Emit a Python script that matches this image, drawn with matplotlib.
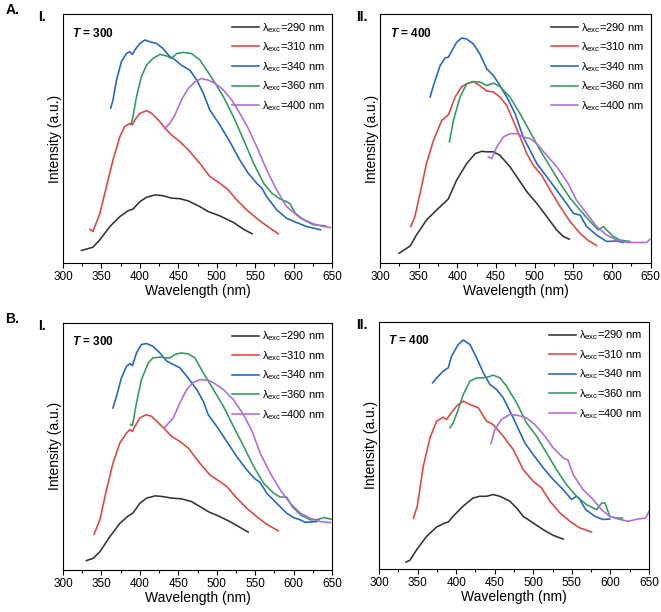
import matplotlib
matplotlib.use("Agg")
import matplotlib.pyplot as plt
import numpy as np

plt.rcParams['font.family'] = ['Liberation Sans', 'DejaVu Sans']
plt.rcParams['mathtext.fontset'] = 'custom'
plt.rcParams['mathtext.rm'] = 'Liberation Sans'
plt.rcParams['mathtext.it'] = 'Liberation Sans:italic'
plt.rcParams['mathtext.bf'] = 'Liberation Sans:bold'
plt.rcParams['mathtext.bfit'] = 'Liberation Sans:italic:bold'

excitations = ["290", "310", "340", "360", "400"]
colors = ["#333333", "#e8403f", "#1f63c9", "#2e9c58", "#b068e0"]

# ---------- Panel A.I (T = 300) ----------
aI_290_x = [324, 339, 348, 361, 374, 385, 391, 400, 409, 420, 430, 441, 452, 463, 478, 489, 504, 522, 535, 546]
aI_290_y = [5.1, 6.4, 9.4, 14.7, 18.7, 21.1, 21.7, 24.7, 26.5, 27.4, 27.1, 26.1, 25.9, 25.0, 22.7, 20.7, 19.0, 16.3, 13.6, 11.8]
aI_310_x = [335, 339, 348, 356.5, 365, 374, 380, 387, 390, 393.5, 400, 409, 415, 424, 433, 441, 452, 463, 478, 491, 504, 515, 526, 539, 552, 565, 580]
aI_310_y = [13.6, 12.7, 20.0, 30.7, 41.4, 50.8, 54.8, 56.1, 55.5, 57.5, 60.2, 61.2, 60.2, 57.5, 54.1, 51.5, 48.8, 45.5, 40.1, 34.8, 32.1, 29.4, 25.4, 21.4, 18.0, 15.0, 11.8]
aI_340_x = [362, 365, 369.6, 376, 382.6, 387, 390.4, 393.5, 400, 406.5, 413, 421.7, 430, 439, 443.5, 454, 465, 474, 482.6, 491, 504, 517, 530, 541, 552, 558.7, 565, 578, 591, 604, 617, 635]
aI_340_y = [62.2, 65.5, 73.5, 80.9, 84.2, 84.9, 83.8, 85.6, 88.2, 89.6, 88.9, 88.2, 86.2, 82.9, 82.2, 79.5, 77.5, 73.5, 68.2, 61.5, 55.5, 48.8, 41.4, 36.1, 32.1, 30.1, 26.7, 21.4, 18.0, 16.3, 14.7, 13.4]
aI_360_x = [389, 391, 395.6, 402, 408.7, 417, 426, 435, 441, 448, 456.5, 467, 478, 487, 498, 508.7, 521.7, 535, 548, 561, 571.7, 582.6, 591, 595.6, 602, 613, 626, 641]
aI_360_y = [56.1, 58.8, 66.8, 74.9, 79.5, 82.2, 83.8, 83.2, 82.2, 84.2, 84.6, 84.2, 81.6, 77.5, 72.2, 66.8, 58.8, 49.5, 40.1, 32.1, 28.1, 25.7, 24.7, 23.8, 20.1, 17.4, 15.4, 15.0]
aI_400_x = [432.6, 439, 445.6, 454, 463, 472, 480, 489, 498, 508.7, 519.6, 530, 541, 552, 565, 578, 591, 609, 626, 639, 648]
aI_400_y = [54.1, 56.1, 59.5, 65.5, 70.2, 72.9, 74.1, 73.5, 72.2, 69.5, 65.5, 60.2, 54.1, 46.8, 37.4, 29.4, 22.7, 18.0, 15.8, 14.7, 14.3]

# ---------- Panel A.II (T = 400) ----------
aII_290_x = [324.6, 339, 347, 360, 373, 388, 399, 412, 423, 431.5, 438, 446.6, 455, 468, 481, 489.7, 502.6, 515.5, 528.4, 537, 544.8]
aII_290_y = [4.0, 6.9, 11.3, 17.3, 21.3, 25.7, 33.3, 40.0, 44.0, 44.9, 44.7, 44.7, 43.3, 38.7, 32.7, 28.7, 24.0, 18.7, 13.3, 10.7, 9.6]
aII_310_x = [339.7, 345, 351.7, 360, 369, 379.7, 388.4, 397, 405.6, 412, 420.7, 427, 438, 446.6, 455, 463.8, 472, 481, 489.7, 498, 509, 520, 532.8, 545.7, 558.6, 569, 580]
aII_310_y = [14.7, 18.7, 28.0, 40.0, 49.3, 57.3, 59.6, 66.7, 70.9, 72.0, 72.9, 71.7, 69.1, 68.7, 66.7, 63.3, 57.3, 50.7, 44.0, 39.3, 35.3, 29.3, 22.7, 16.7, 12.0, 9.1, 7.1]
aII_340_x = [364.7, 369, 377.6, 384, 388.4, 390.5, 399, 405.6, 412, 420.7, 429, 438, 446.6, 455, 463.8, 474.6, 485, 494, 502.6, 515.5, 528.4, 541, 550, 558.6, 567, 580, 593, 606, 614.7]
aII_340_y = [66.7, 71.3, 79.3, 82.4, 82.7, 84.0, 88.7, 90.4, 90.0, 88.0, 84.0, 78.0, 75.3, 71.3, 66.7, 60.0, 50.7, 45.3, 40.0, 34.7, 29.3, 24.0, 20.0, 19.3, 14.7, 11.3, 8.7, 8.9, 8.3]
aII_360_x = [389.7, 394.8, 403.4, 412, 420.7, 429, 438, 446.6, 455, 468, 481, 494, 507, 520, 533, 546, 558.6, 571.6, 582.3, 589, 593, 601.7, 610, 623]
aII_360_y = [48.7, 57.3, 66.7, 72.0, 72.9, 72.7, 71.3, 72.3, 70.9, 66.7, 60.0, 52.7, 45.3, 38.7, 32.0, 26.0, 21.3, 16.7, 13.3, 14.7, 13.3, 10.7, 9.3, 8.7]
aII_400_x = [440, 444.4, 450.9, 459.5, 468, 476.7, 485, 494, 502.6, 515.5, 528.4, 539, 543, 554, 567, 580, 593, 606, 618.9, 631.9, 644.8, 649]
aII_400_y = [42.7, 42.0, 46.7, 50.7, 52.0, 52.0, 50.7, 50.0, 48.0, 43.3, 38.7, 34.0, 32.0, 25.3, 20.0, 14.7, 11.3, 9.3, 8.3, 8.3, 8.3, 9.6]

# ---------- Panel B.I (T = 300) ----------
bI_290_x = [330.4, 339, 348, 361, 374, 385, 391, 400, 409, 420, 430, 441, 454, 467, 478, 489, 504, 517, 530, 541]
bI_290_y = [3.8, 4.7, 7.4, 13.5, 18.9, 21.9, 23.0, 27.0, 29.1, 30.0, 29.7, 29.1, 28.8, 27.7, 25.7, 23.6, 21.6, 19.6, 17.3, 15.3]
bI_310_x = [340.4, 348, 356.5, 365, 374, 382.6, 387, 390.4, 393.5, 400, 408, 415, 424, 433, 441, 452, 463, 478, 491, 504, 513, 526, 539, 552, 565, 580]
bI_310_y = [14.5, 20.3, 32.4, 43.2, 51.4, 55.4, 56.8, 56.1, 58.1, 61.5, 62.8, 62.2, 59.5, 56.8, 54.1, 52.0, 49.3, 43.2, 38.5, 35.8, 33.8, 29.1, 25.0, 21.6, 18.5, 15.9]
bI_340_x = [365, 369.6, 376, 382.6, 387, 390.4, 395.6, 402, 408.7, 417, 426, 435, 443.5, 452, 461, 474, 482.6, 489, 500, 513, 526, 539, 550, 556.5, 565, 578, 591, 600, 608.7, 615, 630]
bI_340_y = [65.5, 70.3, 77.7, 82.4, 83.5, 82.7, 87.8, 91.2, 91.6, 90.5, 87.8, 84.5, 83.1, 81.8, 78.4, 73.0, 68.2, 62.8, 58.1, 52.0, 45.9, 40.5, 36.8, 35.4, 31.1, 27.0, 23.0, 21.2, 20.3, 19.3, 19.6]
bI_360_x = [388, 390.4, 395.6, 402, 411, 417, 426, 435, 439, 445.6, 454, 463, 471.7, 482.6, 495.7, 508.7, 521.7, 535, 548, 561, 574, 582.6, 591, 598, 609, 622, 632.6, 639, 650]
bI_360_y = [58.8, 58.4, 67.6, 77.0, 83.8, 85.8, 86.1, 85.8, 85.8, 87.2, 87.8, 87.4, 85.8, 79.7, 73.0, 66.2, 58.1, 50.0, 41.9, 35.1, 31.1, 29.5, 29.5, 25.7, 22.3, 20.3, 20.5, 21.2, 20.5]
bI_400_x = [432.6, 443.5, 452, 461, 469.6, 478, 489, 498, 508.7, 521.7, 535, 546, 556.5, 569.6, 582.6, 595.6, 609, 622, 635, 648]
bI_400_y = [57.8, 61.5, 67.6, 73.0, 75.9, 77.0, 76.8, 75.3, 73.0, 68.9, 62.8, 56.1, 47.3, 39.2, 32.4, 27.0, 23.0, 20.9, 19.6, 19.2]

# ---------- Panel B.II (T = 400) ----------
bII_290_x = [335, 340, 348.8, 361.7, 374.7, 385.5, 389.8, 396, 409, 421.9, 430.8, 439.4, 448, 456.7, 469.6, 478.3, 486.9, 499.8, 512.8, 525.7, 538.7]
bII_290_y = [2.8, 3.5, 7.8, 13.2, 17.0, 18.6, 19.0, 21.3, 25.4, 28.7, 29.4, 29.4, 30.1, 29.4, 27.4, 24.7, 21.3, 18.6, 15.9, 13.6, 12.1]
bII_310_x = [344.5, 349.6, 357.4, 366, 374.7, 383.3, 387.6, 392, 400.6, 409.3, 417.9, 428.6, 439.4, 448, 461, 474, 486.9, 499.8, 510.6, 521.5, 534.4, 547.3, 560.3, 575.4]
bII_310_y = [20.6, 25.4, 41.6, 53.0, 59.8, 61.4, 60.5, 62.5, 65.9, 67.9, 66.5, 65.2, 59.8, 58.4, 53.7, 48.3, 40.2, 35.5, 32.8, 27.4, 22.7, 19.3, 16.6, 15.0]
bII_340_x = [369.5, 374.7, 383.3, 389.8, 394, 402.7, 409.2, 417.9, 426.5, 435.1, 443.8, 452.4, 461, 474, 489, 499.8, 512.8, 525.7, 538.7, 549.5, 556, 559, 568, 579.7, 590.5, 599]
bII_340_y = [75.3, 77.3, 80.0, 81.4, 86.1, 90.8, 92.6, 90.8, 85.4, 79.4, 74.6, 72.6, 69.2, 61.1, 51.0, 46.3, 40.9, 36.2, 32.1, 28.1, 29.4, 28.7, 24.0, 21.3, 20.0, 20.2]
bII_360_x = [392, 396.2, 402.7, 409.2, 417.9, 426.5, 435.1, 441.6, 448, 456.7, 465.4, 478.3, 491.2, 504.2, 517, 530, 543, 556, 569, 582, 588.7, 593, 599, 607.7, 615.5]
bII_360_y = [57.1, 59.1, 64.5, 70.6, 76.0, 77.3, 77.3, 77.7, 78.4, 77.3, 73.9, 67.2, 59.1, 53.7, 47.0, 40.2, 34.1, 29.4, 26.0, 24.0, 26.7, 26.7, 21.3, 20.6, 20.6]
bII_400_x = [445, 450.2, 458.8, 469.6, 480.4, 491.2, 502, 515, 525.7, 538.7, 545, 551.6, 564.6, 577.5, 588.3, 599, 609.8, 622.8, 635.7, 645.6, 650]
bII_400_y = [50.7, 56.4, 60.5, 62.5, 62.1, 61.1, 58.4, 53.7, 49.0, 45.0, 44.0, 38.2, 32.1, 28.1, 24.0, 21.3, 20.2, 19.3, 20.2, 20.6, 23.3]

panels = [
    dict(pos=[0.0953, 0.570, 0.407, 0.407], temp="300", roman="I.", roman_x=0.069, letter="A.",
         series=[(aI_290_x, aI_290_y), (aI_310_x, aI_310_y), (aI_340_x, aI_340_y), (aI_360_x, aI_360_y), (aI_400_x, aI_400_y)]),
    dict(pos=[0.575, 0.570, 0.4095, 0.407], temp="400", roman="II.", roman_x=0.556, letter=None,
         series=[(aII_290_x, aII_290_y), (aII_310_x, aII_310_y), (aII_340_x, aII_340_y), (aII_360_x, aII_360_y), (aII_400_x, aII_400_y)]),
    dict(pos=[0.0953, 0.0686, 0.407, 0.404], temp="300", roman="I.", roman_x=0.069, letter="B.",
         series=[(bI_290_x, bI_290_y), (bI_310_x, bI_310_y), (bI_340_x, bI_340_y), (bI_360_x, bI_360_y), (bI_400_x, bI_400_y)]),
    dict(pos=[0.5734, 0.0703, 0.4085, 0.404], temp="400", roman="II.", roman_x=0.556, letter=None,
         series=[(bII_290_x, bII_290_y), (bII_310_x, bII_310_y), (bII_340_x, bII_340_y), (bII_360_x, bII_360_y), (bII_400_x, bII_400_y)]),
]

fig = plt.figure(figsize=(6.61, 6.12), dpi=100)

for p in panels:
    ax = fig.add_axes(p["pos"])
    for (xs, ys), exc, c in zip(p["series"], excitations, colors):
        ax.plot(xs, ys, color=c, lw=1.15, label=r'$\mathregular{\lambda_{exc}}$=' + exc + ' nm')
    ax.set_xlim(300, 650)
    ax.set_ylim(0, 100)
    ax.set_xticks(np.arange(300, 651, 50))
    ax.set_xticks(np.arange(325, 650, 50), minor=True)
    ax.set_yticks([])
    ax.tick_params(axis='x', which='major', direction='out', length=3.5, width=0.8, labelsize=8.5, pad=2)
    ax.tick_params(axis='x', which='minor', direction='out', length=2, width=0.8)
    for s in ax.spines.values():
        s.set_linewidth(0.8)
    ax.set_xlabel("Wavelength (nm)", fontsize=10, labelpad=1)
    ax.set_ylabel("Intensity (a.u.)", fontsize=10, labelpad=1)
    ax.text(0.035, 0.95, r'$\mathbfit{T}$' + ' = ' + p["temp"], transform=ax.transAxes,
            fontsize=8.5, fontweight='bold', va='top', ha='left')
    ax.legend(loc='upper right', frameon=False, fontsize=8, handlelength=2.4,
              handletextpad=0.3, labelspacing=0.52, borderaxespad=0.2)
    l, b, w, h = p["pos"]
    fig.text(p["roman_x"], b + h + 0.006, p["roman"], fontsize=10, fontweight='bold', ha='right', va='top')
    if p["letter"]:
        fig.text(0.008, b + h + 0.018, p["letter"], fontsize=10, fontweight='bold', ha='left', va='top')

fig.savefig("out.png", dpi=100)
